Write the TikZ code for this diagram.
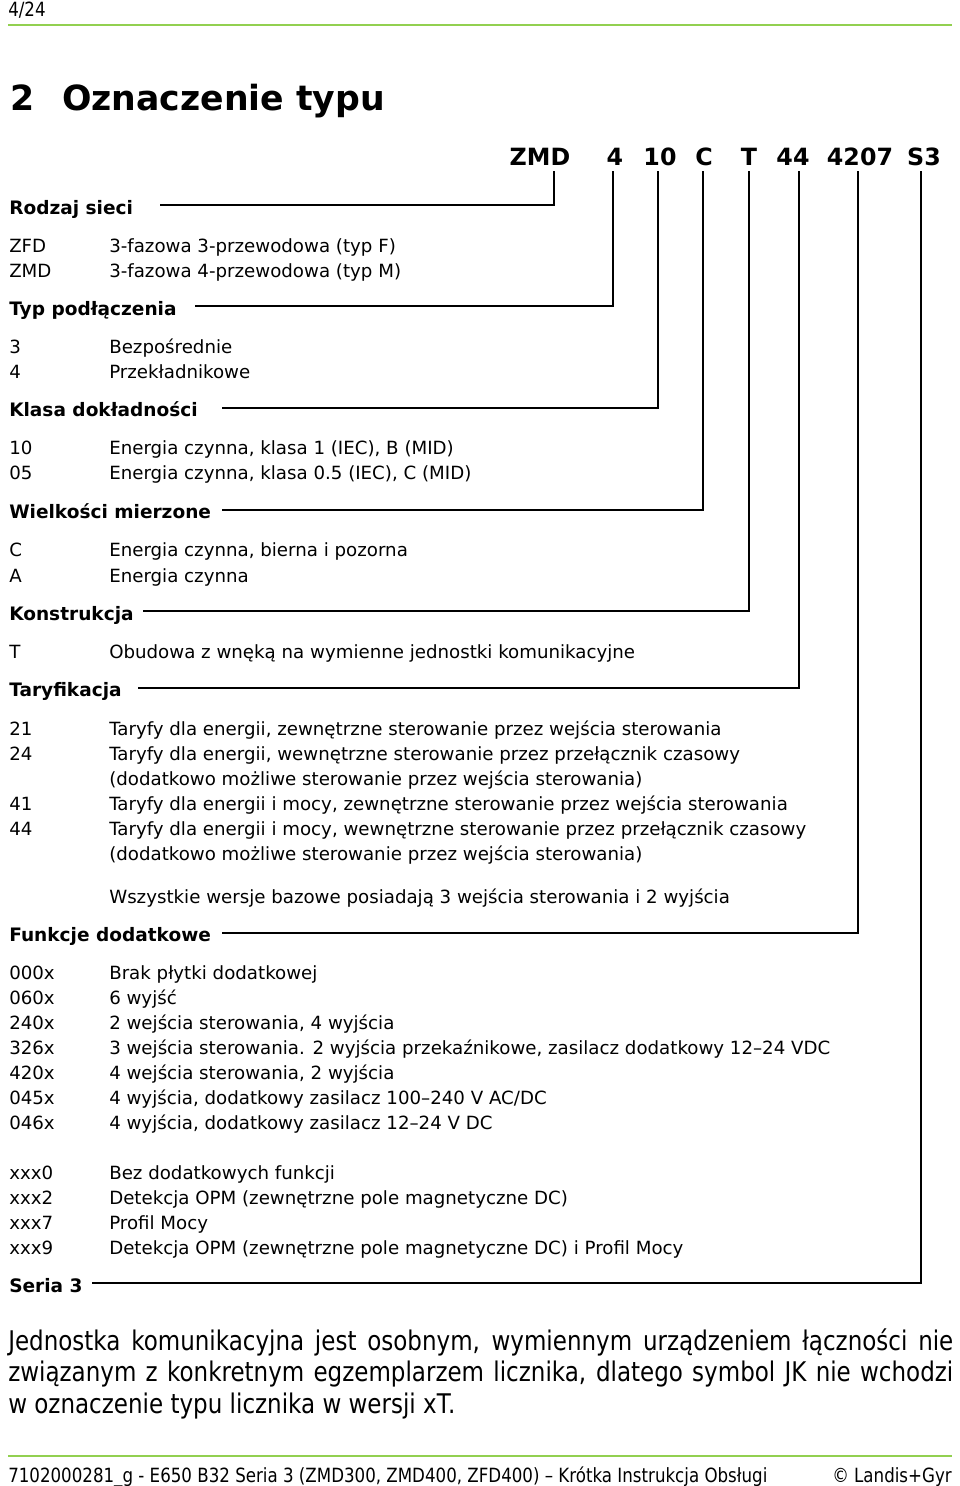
\documentclass[tikz,border=0pt]{standalone}
\usepackage{fontspec}
\setmainfont{DejaVu Sans}
\newfontfamily\condfont[FakeStretch=0.85]{DejaVu Sans}
\definecolor{lgreen}{RGB}{146,208,80}
\begin{document}
\begin{tikzpicture}[x=0.75pt,y=-0.75pt,
  txt/.style={anchor=base west,inner sep=0pt,font=\fontsize{13.65}{16}\selectfont},
  hd/.style={anchor=base west,inner sep=0pt,font=\fontsize{13.9}{16}\selectfont\bfseries},
  codetxt/.style={anchor=base,inner sep=0pt,font=\fontsize{17.8}{20}\selectfont\bfseries},
  conn/.style={line width=1.4pt,line join=miter},
  rule/.style={lgreen,line width=1.6pt},
  small/.style={inner sep=0pt,font=\condfont\fontsize{14.7}{18}\selectfont},
  cond/.style={anchor=base west,inner sep=0pt,font=\condfont\fontsize{20.3}{23}\selectfont}]
\useasboundingbox (0,0) rectangle (960,1486);
\fill[white] (0,0) rectangle (960,1486);

% header
\node[small,anchor=base west] (pg) at (8,16) {4/24};
\coordinate (gl1) at (8,25); \coordinate (gr1) at (952,25);
\draw[rule] (gl1) -- (gr1);
\node[anchor=base west,inner sep=0pt,font=\fontsize{26}{30}\selectfont\bfseries] (num) at (10,110) {2};
\node[anchor=base west,inner sep=0pt,font=\fontsize{26}{30}\selectfont\bfseries] (title) at (62,110) {Oznaczenie typu};

% code line
\node[codetxt] (cZMD) at (540,165) {ZMD};
\node[codetxt] (c4) at (615,165) {4};
\node[codetxt] (c10) at (660,165) {10};
\node[codetxt] (cC) at (704,165) {C};
\node[codetxt] (cT) at (749,165) {T};
\node[codetxt] (c44) at (793,165) {44};
\node[codetxt] (c4207) at (860,165) {4207};
\node[codetxt] (cS3) at (924,165) {S3};

\coordinate (t1) at (554,171); \coordinate (t2) at (613,171);
\coordinate (t3) at (658,171); \coordinate (t4) at (703,171);
\coordinate (t5) at (749,171); \coordinate (t6) at (799,171);
\coordinate (t7) at (858,171); \coordinate (t8) at (921,171);

% headings
\node[hd] (h1) at (9,214) {Rodzaj sieci};
\node[hd] (h2) at (9,315) {Typ podłączenia};
\node[hd] (h3) at (9,416) {Klasa dokładności};
\node[hd] (h4) at (9,518) {Wielkości mierzone};
\node[hd] (h5) at (9,620) {Konstrukcja};
\node[hd] (h6) at (9,696) {Taryfikacja};
\node[hd] (h7) at (9,941) {Funkcje dodatkowe};
\node[hd] (h8) at (9,1292) {Seria 3};

\coordinate (s1) at (160,205); \coordinate (s2) at (195,306);
\coordinate (s3) at (222,408); \coordinate (s4) at (222,510);
\coordinate (s5) at (143,611); \coordinate (s6) at (138,688);
\coordinate (s7) at (222,933); \coordinate (s8) at (92,1283);

\draw[conn] (s1) -| (t1);
\draw[conn] (s2) -| (t2);
\draw[conn] (s3) -| (t3);
\draw[conn] (s4) -| (t4);
\draw[conn] (s5) -| (t5);
\draw[conn] (s6) -| (t6);
\draw[conn] (s7) -| (t7);
\draw[conn] (s8) -| (t8);

% items
\node[txt] (k1) at (9,252) {ZFD};  \node[txt] (d1) at (109,252) {3-fazowa 3-przewodowa (typ F)};
\node[txt] (k2) at (9,277) {ZMD};  \node[txt] (d2) at (109,277) {3-fazowa 4-przewodowa (typ M)};

\node[txt] (k3) at (9,353) {3};  \node[txt] (d3) at (109,353) {Bezpośrednie};
\node[txt] (k4) at (9,378) {4};  \node[txt] (d4) at (109,378) {Przekładnikowe};

\node[txt] (k5) at (9,454) {10};  \node[txt] (d5) at (109,454) {Energia czynna, klasa 1 (IEC), B (MID)};
\node[txt] (k6) at (9,479) {05};  \node[txt] (d6) at (109,479) {Energia czynna, klasa 0.5 (IEC), C (MID)};

\node[txt] (k7) at (9,556) {C};  \node[txt] (d7) at (109,556) {Energia czynna, bierna i pozorna};
\node[txt] (k8) at (9,582) {A};  \node[txt] (d8) at (109,582) {Energia czynna};

\node[txt] (k9) at (9,658) {T};  \node[txt] (d9) at (109,658) {Obudowa z wnęką na wymienne jednostki komunikacyjne};

\node[txt] (k10) at (9,735) {21};  \node[txt] (d10) at (109,735) {Taryfy dla energii, zewnętrzne sterowanie przez wejścia sterowania};
\node[txt] (k11) at (9,760) {24};  \node[txt] (d11) at (109,760) {Taryfy dla energii, wewnętrzne sterowanie przez przełącznik czasowy};
\node[txt] (d11b) at (109,785) {(dodatkowo możliwe sterowanie przez wejścia sterowania)};
\node[txt] (k12) at (9,810) {41};  \node[txt] (d12) at (109,810) {Taryfy dla energii i mocy, zewnętrzne sterowanie przez wejścia sterowania};
\node[txt] (k13) at (9,835) {44};  \node[txt] (d13) at (109,835) {Taryfy dla energii i mocy, wewnętrzne sterowanie przez przełącznik czasowy};
\node[txt] (d13b) at (109,860) {(dodatkowo możliwe sterowanie przez wejścia sterowania)};
\node[txt] (note) at (109,903) {Wszystkie wersje bazowe posiadają 3 wejścia sterowania i 2 wyjścia};

\node[txt] (k14) at (9,979) {000x};  \node[txt] (d14) at (109,979) {Brak płytki dodatkowej};
\node[txt] (k15) at (9,1004) {060x};  \node[txt] (d15) at (109,1004) {6 wyjść};
\node[txt] (k16) at (9,1029) {240x};  \node[txt] (d16) at (109,1029) {2 wejścia sterowania, 4 wyjścia};
\node[txt] (k17) at (9,1054) {326x};  \node[txt] (d17) at (109,1054) {3 wejścia sterowania. 2 wyjścia przekaźnikowe, zasilacz dodatkowy 12–24 VDC};
\node[txt] (k18) at (9,1079) {420x};  \node[txt] (d18) at (109,1079) {4 wejścia sterowania, 2 wyjścia};
\node[txt] (k19) at (9,1104) {045x};  \node[txt] (d19) at (109,1104) {4 wyjścia, dodatkowy zasilacz 100–240 V AC/DC};
\node[txt] (k20) at (9,1129) {046x};  \node[txt] (d20) at (109,1129) {4 wyjścia, dodatkowy zasilacz 12–24 V DC};

\node[txt] (k21) at (9,1179) {xxx0};  \node[txt] (d21) at (109,1179) {Bez dodatkowych funkcji};
\node[txt] (k22) at (9,1204) {xxx2};  \node[txt] (d22) at (109,1204) {Detekcja OPM (zewnętrzne pole magnetyczne DC)};
\node[txt] (k23) at (9,1229) {xxx7};  \node[txt] (d23) at (109,1229) {Profil Mocy};
\node[txt] (k24) at (9,1254) {xxx9};  \node[txt] (d24) at (109,1254) {Detekcja OPM (zewnętrzne pole magnetyczne DC) i Profil Mocy};

% paragraph
\node[cond] (p1) at (8,1350) {\makebox[708.75pt][s]{Jednostka komunikacyjna jest osobnym, wymiennym urządzeniem łączności nie}};
\node[cond] (p2) at (8,1381) {\makebox[708.75pt][s]{związanym z konkretnym egzemplarzem licznika, dlatego symbol JK nie wchodzi}};
\node[cond] (p3) at (8,1413) {w oznaczenie typu licznika w wersji xT.};

% footer
\coordinate (gl2) at (8,1456); \coordinate (gr2) at (952,1456);
\draw[rule] (gl2) -- (gr2);
\node[small,anchor=base west] (foot) at (8,1482) {7102000281\_g - E650 B32 Seria 3 (ZMD300, ZMD400, ZFD400) – Krótka Instrukcja Obsługi};
\node[small,anchor=base east] (copy) at (952,1482) {© Landis+Gyr};
\end{tikzpicture}
\end{document}
